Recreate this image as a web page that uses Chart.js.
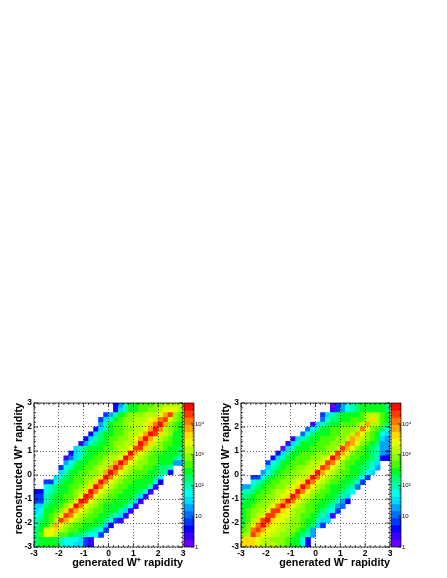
<!DOCTYPE html>
<html>
<head>
<meta charset="utf-8">
<title>W rapidity migration</title>
<script src="https://cdn.jsdelivr.net/npm/chart.js@4/dist/chart.umd.min.js"></script>
<style>
    html, body { margin: 0; padding: 0; background: #fff; }
    canvas { position: absolute; }
</style>
</head>
<body>
<canvas id="plus-map" style="left:0;top:395px" width="207" height="183"></canvas>
<canvas id="plus-bar" style="left:184px;top:395px" width="30" height="183"></canvas>
<canvas id="minus-map" style="left:207px;top:395px" width="207" height="183"></canvas>
<canvas id="minus-bar" style="left:391px;top:395px" width="30" height="183"></canvas>
<script>
// rapidity bin edges, 30 bins on both axes
const rapidityEdges = [-3, -2.8, -2.6, -2.4, -2.2, -2, -1.8, -1.6, -1.4, -1.2, -1, -0.8, -0.6, -0.4, -0.2, 0,
    0.2, 0.4, 0.6, 0.8, 1, 1.2, 1.4, 1.6, 1.8, 2, 2.2, 2.4, 2.6, 2.8, 3];
const rapidityTicks = [-3, -2, -1, 0, 1, 2, 3];

// colour contours, bottom of the z axis to the top
const zEdges = [1, 1.7, 3, 5.1, 8.8, 15, 26, 44, 76, 130, 223, 381, 653, 1117, 1912, 3273, 5602, 9589, 16411, 28088, 48070];
const zColors = ['#6a00ff', '#3c00ff', '#0a00ff', '#0038ff', '#0070ff', '#00a4ff', '#00dcff', '#00ffec', '#00ffb0', '#00ff70',
    '#00ff20', '#48ff00', '#88ff00', '#b4ff00', '#e4ff00', '#ffdc00', '#ffa800', '#ff7800', '#ff3c00', '#ff0a00'];
const zTicks = [1, 10, 100, 1000, 10000];
const zTickLabels = ['1', '10', '10²', '10³', '10⁴'];
const zMinorTicks = [2, 3, 4, 5, 6, 7, 8, 9, 20, 30, 40, 50, 60, 70, 80, 90, 200, 300, 400, 500, 600, 700, 800, 900,
    2000, 3000, 4000, 5000, 6000, 7000, 8000, 9000, 20000, 30000, 40000];

// contour band of every cell. top row first, -1 = empty bin
const wPlusBands = [
    [-1,-1,-1,-1,-1,-1,-1,-1,-1,-1,-1,-1,-1,-1,-1,-1, 2, 5, 8,10,10,11,11,11,12,12,13,13,13,13],
    [-1,-1,-1,-1,-1,-1,-1,-1,-1,-1,-1,-1,-1,-1,-1,-1, 2, 6, 8,10,10,11,11,12,12,13,14,14,14,13],
    [-1,-1,-1,-1,-1,-1,-1,-1,-1,-1,-1,-1,-1,-1, 3, 5, 8,10,11,12,12,12,13,13,13,14,16,18,12,11],
    [-1,-1,-1,-1,-1,-1,-1,-1,-1,-1,-1,-1,-1, 3, 6, 8,10,11,12,12,13,13,13,14,15,17,18,14,12,11],
    [-1,-1,-1,-1,-1,-1,-1,-1,-1,-1,-1,-1,-1, 5, 8,10,11,11,12,13,13,13,14,15,17,19,16,12,11,10],
    [-1,-1,-1,-1,-1,-1,-1,-1,-1,-1,-1,-1, 2, 6, 8,10,11,11,12,12,13,13,14,16,19,17,13,12,11,10],
    [-1,-1,-1,-1,-1,-1,-1,-1,-1,-1,-1, 2, 6, 9,10,10,11,11,12,13,13,14,16,19,18,15,13,12,10,10],
    [-1,-1,-1,-1,-1,-1,-1,-1,-1,-1, 2, 6, 8, 9,10,11,11,12,12,13,14,16,19,16,14,13,12,11,10,10],
    [-1,-1,-1,-1,-1,-1,-1,-1,-1, 1, 5, 8, 9,10,10,11,12,12,13,13,15,19,17,15,13,12,11,11,10,10],
    [-1,-1,-1,-1,-1,-1,-1,-1, 6, 8, 9,10,10,10,11,11,12,13,13,14,18,18,15,13,12,12,11,10,10, 9],
    [-1,-1,-1,-1,-1,-1,-1, 2, 6, 8, 9,10,10,11,11,12,12,13,14,19,16,14,13,12,11,11,10,10,10, 9],
    [-1,-1,-1,-1,-1,-1, 1, 4, 6, 8,10,10,11,11,12,13,13,14,19,17,14,13,12,11,11,10,10,10, 9, 8],
    [-1,-1,-1,-1,-1,-1, 5, 7, 9,10,10,11,11,12,13,13,16,19,17,14,13,12,12,11,11,10,10,10, 5, 5],
    [-1,-1,-1,-1,-1, 3, 7, 8,10,10,11,11,12,13,13,16,19,17,14,13,12,12,11,11,10, 9, 9, 8,-1,-1],
    [-1,-1,-1,-1,-1, 6, 8,10,10,11,11,12,12,13,16,19,17,14,13,12,11,11,11,10,10, 9, 8, 2,-1,-1],
    [-1,-1,-1,-1, 6, 8, 9,10,11,11,12,12,13,15,19,17,14,13,12,11,11,11,10,10, 9, 7,-1,-1,-1,-1],
    [-1,-1, 3, 3, 7, 9,10,10,11,11,12,13,15,19,17,14,13,12,11,11,10,10,10,10, 7, 2,-1,-1,-1,-1],
    [-1,-1, 7, 8, 9,10,10,11,11,12,13,15,19,17,14,13,12,11,11,10,10,10,10, 8, 1,-1,-1,-1,-1,-1],
    [ 2, 2, 7, 8, 9,10,10,11,12,13,15,19,17,14,13,12,11,11,10,10,10, 9, 7, 1,-1,-1,-1,-1,-1,-1],
    [ 3, 3, 8, 9,10,10,11,11,12,14,19,18,14,13,12,11,11,10,10,10, 9, 6, 1,-1,-1,-1,-1,-1,-1,-1],
    [ 3, 3, 8, 9,10,10,11,12,14,19,18,14,13,12,11,11,10,10,10, 9, 6, 1,-1,-1,-1,-1,-1,-1,-1,-1],
    [ 6, 6, 9,10,10,11,12,14,19,17,14,13,12,11,10,10,10,10, 9, 7, 1,-1,-1,-1,-1,-1,-1,-1,-1,-1],
    [ 6, 7,10,10,11,12,15,18,16,14,13,12,11,11,10,10,10, 8, 6, 1,-1,-1,-1,-1,-1,-1,-1,-1,-1,-1],
    [ 7, 8,10,11,12,14,18,17,14,13,12,11,11,10,10, 9, 8, 6, 1,-1,-1,-1,-1,-1,-1,-1,-1,-1,-1,-1],
    [ 8, 9,10,11,13,18,16,14,13,12,11,11,10,10, 9, 7, 3, 1,-1,-1,-1,-1,-1,-1,-1,-1,-1,-1,-1,-1],
    [ 8,10,10,12,16,14,13,12,11,11,10,10,10, 9, 6, 2,-1,-1,-1,-1,-1,-1,-1,-1,-1,-1,-1,-1,-1,-1],
    [ 9,10,14,14,15,13,12,11,11,10,10, 9, 8, 7, 3,-1,-1,-1,-1,-1,-1,-1,-1,-1,-1,-1,-1,-1,-1,-1],
    [ 9,11,14,14,13,11,11,10, 9, 9, 8, 7, 7, 3,-1,-1,-1,-1,-1,-1,-1,-1,-1,-1,-1,-1,-1,-1,-1,-1],
    [ 9,10,10,10,10, 8, 7, 7, 7, 6, 3, 1,-1,-1,-1,-1,-1,-1,-1,-1,-1,-1,-1,-1,-1,-1,-1,-1,-1,-1],
    [ 9,10,10,10,10, 8, 7, 7, 6, 6, 3, 1,-1,-1,-1,-1,-1,-1,-1,-1,-1,-1,-1,-1,-1,-1,-1,-1,-1,-1]
];
const wMinusBands = [
    [-1,-1,-1,-1,-1,-1,-1,-1,-1,-1,-1,-1,-1,-1,-1,-1,-1,-1, 0, 3, 5, 7, 8, 9,10,10,10,10,10, 9],
    [-1,-1,-1,-1,-1,-1,-1,-1,-1,-1,-1,-1,-1,-1,-1,-1,-1,-1, 1, 3, 5, 7, 8, 9,10,10,10,10,10, 9],
    [-1,-1,-1,-1,-1,-1,-1,-1,-1,-1,-1,-1,-1,-1,-1,-1, 3, 6, 8, 9,10,10,10,10,11,13,13,13,11,10],
    [-1,-1,-1,-1,-1,-1,-1,-1,-1,-1,-1,-1,-1,-1,-1,-1, 4, 7, 9, 9,10,10,11,11,11,13,15,13,11,10],
    [-1,-1,-1,-1,-1,-1,-1,-1,-1,-1,-1,-1,-1,-1, 1, 6, 8, 9,10,10,11,11,11,12,13,16,13,13,11, 9],
    [-1,-1,-1,-1,-1,-1,-1,-1,-1,-1,-1,-1,-1, 4, 7, 8,10,10,11,11,12,12,12,13,17,14,12,11, 9, 7],
    [-1,-1,-1,-1,-1,-1,-1,-1,-1,-1,-1,-1, 4, 7, 9,10,10,10,11,11,12,12,13,16,14,12,11,10, 7, 6],
    [-1,-1,-1,-1,-1,-1,-1,-1,-1,-1, 1, 6, 8, 9,10,10,11,11,11,12,12,13,16,15,13,12,11,10, 6, 5],
    [-1,-1,-1,-1,-1,-1,-1,-1,-1, 1, 6, 8,10,10,10,11,11,11,12,12,13,17,16,14,12,11,10, 9, 5, 5],
    [-1,-1,-1,-1,-1,-1,-1,-1, 0, 6, 8,10,10,10,11,11,11,12,12,13,18,16,14,12,11,10, 9, 8, 5, 5],
    [-1,-1,-1,-1,-1,-1,-1, 2, 6, 8,10,10,11,11,11,12,12,12,14,18,16,14,12,11,11,10, 9, 8, 5, 4],
    [-1,-1,-1,-1,-1,-1, 2, 6, 8,10,10,11,11,11,12,12,13,14,19,17,14,12,11,11,10,10, 9, 8, 2, 2],
    [-1,-1,-1,-1,-1, 3, 7, 8,10,10,11,11,11,12,13,13,14,18,17,14,12,11,11,10,10, 9, 8, 6,-1,-1],
    [-1,-1,-1,-1,-1, 6, 8, 9,10,11,11,12,12,13,13,14,18,17,14,13,12,11,10,10, 9, 9, 7, 5,-1,-1],
    [-1,-1,-1,-1, 5, 7, 9,10,11,11,12,12,13,13,15,19,16,14,13,12,11,11,10,10, 9, 7, 6,-1,-1,-1],
    [-1,-1, 3, 3, 7, 9,10,11,11,12,12,13,13,15,19,17,14,13,12,11,11,10,10, 9, 7, 3,-1,-1,-1,-1],
    [-1,-1, 7, 8, 9,10,11,11,12,12,13,14,15,19,17,14,13,12,11,11,10,10, 9, 8, 3,-1,-1,-1,-1,-1],
    [ 5, 5, 8, 9,10,11,11,12,12,13,14,15,19,17,14,13,12,11,10,10,10, 9, 8, 4,-1,-1,-1,-1,-1,-1],
    [ 8, 8, 9,10,11,11,12,13,13,14,15,19,17,14,13,12,11,11,10,10, 9, 8, 7,-1,-1,-1,-1,-1,-1,-1],
    [ 9, 9,10,11,11,12,12,13,14,15,19,17,14,13,12,11,11,10,10, 9, 8, 6,-1,-1,-1,-1,-1,-1,-1,-1],
    [ 9,10,10,11,12,12,13,14,16,19,17,14,13,12,11,11,10,10, 9, 8, 5, 2,-1,-1,-1,-1,-1,-1,-1,-1],
    [10,10,11,12,12,13,14,17,19,16,14,13,12,11,11,10,10, 9, 8, 5, 4,-1,-1,-1,-1,-1,-1,-1,-1,-1],
    [10,11,12,12,13,14,18,18,15,14,13,12,12,11,11,10, 9, 8, 7, 3,-1,-1,-1,-1,-1,-1,-1,-1,-1,-1],
    [10,11,12,13,14,18,18,15,14,14,13,12,11,11,10, 9, 8, 6, 1,-1,-1,-1,-1,-1,-1,-1,-1,-1,-1,-1],
    [10,11,13,15,18,19,15,14,14,13,12,12,11,10,10, 8, 6, 6,-1,-1,-1,-1,-1,-1,-1,-1,-1,-1,-1,-1],
    [10,12,14,17,19,16,14,14,13,13,12,12,11,10, 9, 6, 3,-1,-1,-1,-1,-1,-1,-1,-1,-1,-1,-1,-1,-1],
    [11,12,17,18,16,14,14,13,13,12,12,11,10, 9, 5,-1,-1,-1,-1,-1,-1,-1,-1,-1,-1,-1,-1,-1,-1,-1],
    [12,13,18,16,14,14,13,13,12,12,11,10, 9, 8, 5,-1,-1,-1,-1,-1,-1,-1,-1,-1,-1,-1,-1,-1,-1,-1],
    [15,15,15,14,13,13,12,12,12,11,10,10, 7, 2,-1,-1,-1,-1,-1,-1,-1,-1,-1,-1,-1,-1,-1,-1,-1,-1],
    [15,15,15,14,13,13,13,12,12,11,10,10, 7, 2,-1,-1,-1,-1,-1,-1,-1,-1,-1,-1,-1,-1,-1,-1,-1,-1]
];

const FONT = '"Liberation Sans", Arial, sans-serif';

// one floating bar per filled bin
function buildCells(bands) {
    const cells = [];
    bands.forEach((row, r) => {
        row.forEach((band, c) => {
            if (band < 0) return;
            cells.push({
                x: (rapidityEdges[c] + rapidityEdges[c + 1]) / 2,
                y: [rapidityEdges[29 - r], rapidityEdges[30 - r]],
                band: band
            });
        });
    });
    return cells;
}

// frame and inward ticks, ROOT style
const frameTicks = {
    id: 'frameTicks',
    afterDraw(chart, args, opts) {
        const { ctx, chartArea: a, scales } = chart;
        ctx.save();
        ctx.strokeStyle = '#000';
        ctx.lineWidth = 0.7;
        ctx.strokeRect(a.left, a.top, a.right - a.left, a.bottom - a.top);
        ctx.beginPath();
        (opts.xTicks || []).forEach(t => {
            const px = scales.x.getPixelForValue(t.v);
            ctx.moveTo(px, a.bottom); ctx.lineTo(px, a.bottom - t.len);
            ctx.moveTo(px, a.top); ctx.lineTo(px, a.top + t.len);
        });
        (opts.yTicks || []).forEach(t => {
            const py = scales.y.getPixelForValue(t.v);
            if (!opts.rightOnly) {
                ctx.moveTo(a.left, py); ctx.lineTo(a.left + t.len, py);
            }
            ctx.moveTo(a.right, py); ctx.lineTo(a.right - t.len, py);
        });
        ctx.stroke();
        ctx.restore();
    }
};

function drawMap(canvasId, bands, xTitle, yTitle) {
    const rapidityMarks = rapidityEdges.map(v => ({ v: v, len: rapidityTicks.includes(v) ? 4 : 2 }));
    const axisCommon = {
        type: 'linear',
        min: -3,
        max: 3,
        offset: false,
        afterBuildTicks: scale => { scale.ticks = rapidityTicks.map(v => ({ value: v })); },
        grid: { color: 'rgba(0,0,0,0.75)', lineWidth: 0.8, drawTicks: false, offset: false, z: 1 },
        border: { display: false, dash: [1, 2] },
    };
    return new Chart(document.getElementById(canvasId), {
        type: 'bar',
        data: {
            datasets: [{
                data: buildCells(bands),
                backgroundColor: ctx => zColors[ctx.raw.band],
                borderWidth: 0,
                barPercentage: 1,
                categoryPercentage: 1
            }]
        },
        options: {
            responsive: false,
            animation: false,
            layout: { padding: { top: 8, right: 24 } },
            plugins: {
                legend: { display: false },
                tooltip: { enabled: false },
                frameTicks: { xTicks: rapidityMarks, yTicks: rapidityMarks }
            },
            scales: {
                x: {
                    ...axisCommon,
                    afterFit: scale => { scale.height = 31; },
                    ticks: { color: '#000', padding: 2, maxRotation: 0, autoSkip: false, font: { family: FONT, size: 8.5, weight: 'bold' } },
                    title: { display: true, text: xTitle, align: 'end', color: '#000', padding: { top: 0, bottom: 8.5 }, font: { family: FONT, size: 10.8, weight: 'bold' } }
                },
                y: {
                    ...axisCommon,
                    afterFit: scale => { scale.width = 34; },
                    ticks: { color: '#000', padding: 2, autoSkip: false, font: { family: FONT, size: 8.5, weight: 'bold' } },
                    title: { display: true, text: yTitle, align: 'end', color: '#000', padding: { top: 12.5, bottom: 0 }, font: { family: FONT, size: 10.8, weight: 'bold' } }
                }
            }
        },
        plugins: [frameTicks]
    });
}

function drawColorBar(canvasId) {
    const marks = zTicks.map(v => ({ v: v, len: 3 })).concat(zMinorTicks.map(v => ({ v: v, len: 1.5 })));
    return new Chart(document.getElementById(canvasId), {
        type: 'bar',
        data: {
            datasets: [{
                data: zColors.map((c, i) => ({ x: 0, y: [zEdges[i], zEdges[i + 1]] })),
                backgroundColor: zColors,
                borderWidth: 0,
                barPercentage: 1,
                categoryPercentage: 1
            }]
        },
        options: {
            responsive: false,
            animation: false,
            layout: { padding: { top: 8, bottom: 31 } },
            plugins: {
                legend: { display: false },
                tooltip: { enabled: false },
                frameTicks: { yTicks: marks, rightOnly: true }
            },
            scales: {
                x: { type: 'linear', display: false, min: -1, max: 1, offset: false },
                y: {
                    type: 'logarithmic',
                    position: 'right',
                    min: 1,
                    max: 48070,
                    afterBuildTicks: scale => { scale.ticks = zTicks.map(v => ({ value: v })); },
                    afterFit: scale => { scale.width = 20; },
                    grid: { display: false, drawTicks: false },
                    border: { display: false },
                    ticks: {
                        color: '#000',
                        padding: 1,
                        autoSkip: false,
                        font: { family: FONT, size: 6 },
                        callback: value => zTickLabels[zTicks.indexOf(value)]
                    }
                }
            }
        },
        plugins: [frameTicks]
    });
}

drawMap('plus-map', wPlusBands, 'generated W⁺ rapidity', 'reconstructed W⁺ rapidity');
drawColorBar('plus-bar');
drawMap('minus-map', wMinusBands, 'generated W⁻ rapidity', 'reconstructed W⁻ rapidity');
drawColorBar('minus-bar');
</script>
</body>
</html>
